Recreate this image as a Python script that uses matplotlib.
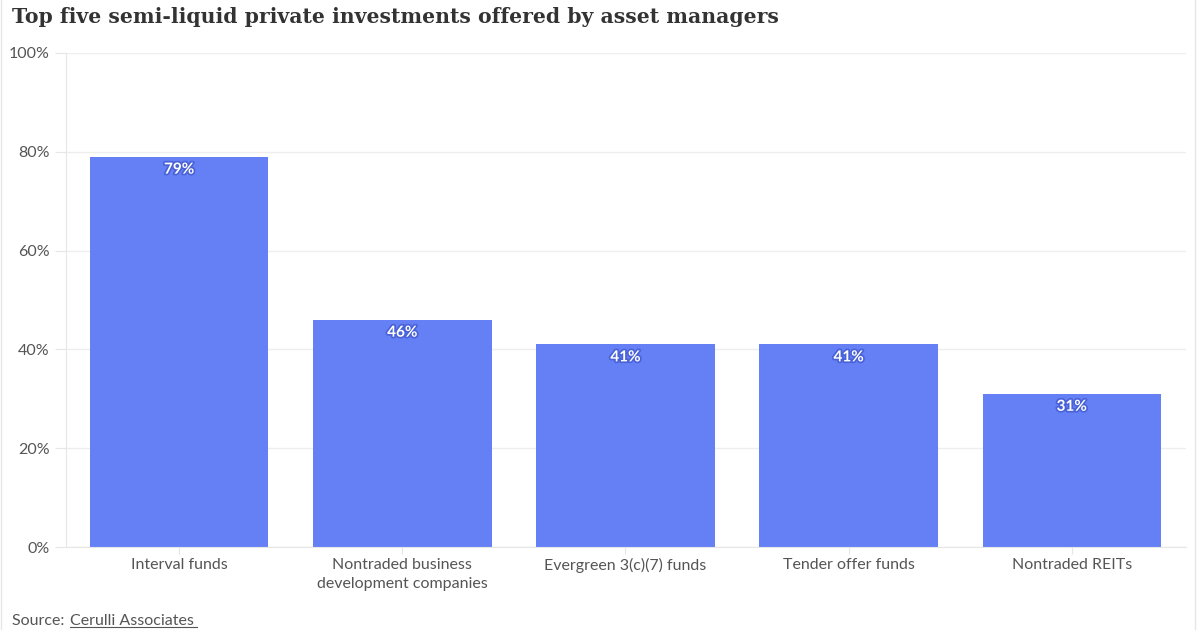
import matplotlib
matplotlib.use("Agg")
import matplotlib.pyplot as plt
import matplotlib.patheffects as pe
from matplotlib.ticker import PercentFormatter

# data
categories = ["Interval funds", "Nontraded business\ndevelopment companies",
              "Evergreen 3(c)(7) funds", "Tender offer funds", "Nontraded REITs"]
shares = [79, 46, 41, 41, 31]

bar_color = "#6580F5"
text_color = "#555555"

plt.rcParams["font.family"] = ["Lato", "DejaVu Sans"]

fig = plt.figure(figsize=(12, 6.3), dpi=100)
ax = fig.add_axes([0.055, 0.1317, 0.933, 0.7842])

x = range(len(categories))
bars = ax.bar(x, shares, width=0.8, color=bar_color, zorder=2)

# value labels inside top of bars
for b, v in zip(bars, shares):
    ax.text(b.get_x() + b.get_width() / 2, v - 1.2, f"{v}%", ha="center", va="top",
            color="white", fontsize=11, fontweight="bold", zorder=3,
            path_effects=[pe.withStroke(linewidth=2.5, foreground="#4a62d8")])

ax.set_ylim(0, 100)
ax.set_xlim(-0.507, 4.51)
ax.set_yticks([0, 20, 40, 60, 80, 100])
ax.yaxis.set_major_formatter(PercentFormatter(decimals=0))
ax.set_xticks(list(x))
ax.set_xticklabels(categories, linespacing=1.45)
ax.grid(axis="y", color="#eeeeee", linewidth=1, zorder=0)

for s in ["top", "right"]:
    ax.spines[s].set_visible(False)
ax.spines["left"].set_color("#e6e6e6")
ax.spines["bottom"].set_color("#e6e6e6")
ax.tick_params(axis="y", length=8, color="#e6e6e6", labelsize=11.5, labelcolor=text_color, pad=4)
ax.tick_params(axis="x", length=5, color="#e6e6e6", labelsize=11.5, labelcolor=text_color, pad=3)

fig.text(0.01, 0.973, "Top five semi-liquid private investments offered by asset managers",
         fontsize=14.7, fontweight="bold", family="DejaVu Serif", color="#333333", va="center")
fig.text(0.01, 0.014, "Source: ", fontsize=11.5, color=text_color, va="center")
fig.text(0.058, 0.014, "Cerulli Associates", fontsize=11.5, color=text_color, va="center")
fig.add_artist(plt.Line2D([0.058, 0.1645], [0.004, 0.004], color=text_color, linewidth=0.8))

# faint page border lines on left and right
fig.add_artist(plt.Line2D([0.001, 0.001], [0, 1], color="#e6e6e6", linewidth=1))
fig.add_artist(plt.Line2D([0.996, 0.996], [0, 1], color="#e6e6e6", linewidth=1))

fig.savefig("out.png", dpi=100)
